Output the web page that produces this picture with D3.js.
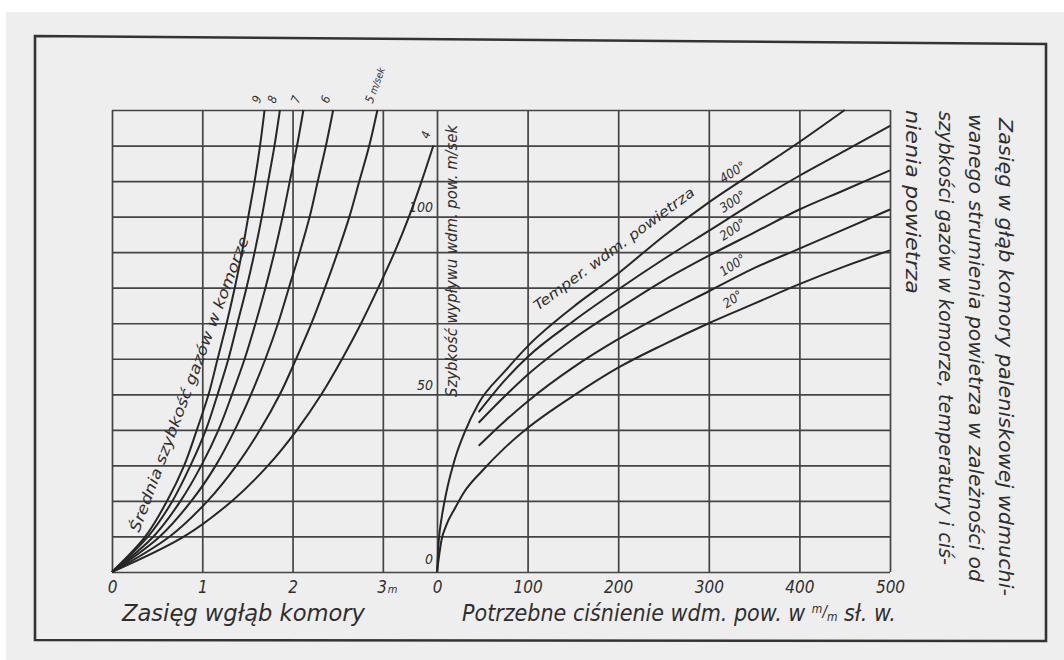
<!DOCTYPE html>
<html>
<head>
<meta charset="utf-8">
<title>Zasięg w głąb komory paleniskowej</title>
<script src="https://cdn.jsdelivr.net/npm/d3@7"></script>
<style>
  body { margin: 0; background: #fff; }
  svg text {
    font-family: "DejaVu Sans Condensed", "Liberation Sans Narrow", sans-serif;
    font-style: oblique;
    fill: #2e2e2e;
  }
</style>
</head>
<body>
<script>
// --- data ---

// left panel: reach (m) for each outflow speed level, one curve per gas speed in chamber
const levels = [0, 10, 20, 30, 40, 50, 60, 70, 80, 90, 100, 110, 120, 130];
const gasSpeeds = ["9", "8", "7", "6", "5", "4"];
const reach9 = [0, 0.37, 0.61, 0.80, 0.94, 1.07, 1.17, 1.27, 1.36, 1.44, 1.51, 1.58, 1.64, 1.69];
const reach8 = [0, 0.40, 0.67, 0.87, 1.04, 1.17, 1.29, 1.39, 1.49, 1.58, 1.66, 1.73, 1.80, 1.86];
const reach7 = [0, 0.46, 0.76, 0.99, 1.18, 1.33, 1.47, 1.59, 1.70, 1.80, 1.89, 1.97, 2.05, 2.12];
const reach6 = [0, 0.53, 0.88, 1.15, 1.36, 1.54, 1.70, 1.84, 1.96, 2.08, 2.19, 2.28, 2.37, 2.45];
const reach5 = [0, 0.64, 1.06, 1.38, 1.64, 1.86, 2.04, 2.21, 2.36, 2.50, 2.63, 2.74, 2.85, 2.94];
const reach4 = [0, 0.80, 1.33, 1.73, 2.05, 2.32, 2.55, 2.76, 2.95, 3.13, 3.29, 3.43, 3.56];

// right panel: needed pressure (mm w.c.) vs outflow speed, one curve per air temperature
const temps = ["400°", "300°", "200°", "100°", "20°"];
const press400 = [0, 2, 5, 10, 20, 30, 46, 75, 100, 150, 200, 250, 300, 350, 400, 450];
const speed400 = [0, 9, 15, 22, 32, 39, 47.5, 56.5, 63.5, 74.5, 84, 94.5, 104, 112.5, 121, 130];
const pressMid = [46, 75, 100, 150, 200, 250, 300, 350, 400, 450, 500];
const speed300 = [45, 54, 60.5, 70.5, 79.5, 88, 96, 104, 111.5, 118.5, 125.5];
const speed200 = [42, 49.5, 55.5, 65.5, 74, 82, 89, 95.5, 102, 107.5, 113];
const speed100 = [35.5, 42.5, 48, 57.5, 65.5, 72.5, 79, 85.5, 91, 96.5, 102];
const press20 = [0, 5, 10, 20, 30, 50, 75, 100, 150, 200, 250, 300, 350, 400, 450, 500];
const speed20 = [0, 9, 13, 18, 22.5, 28.5, 35, 40.5, 49.5, 57.5, 64, 70, 75.5, 81, 86, 90.5];

const reachTicks = [0, 1, 2, 3];
const pressTicks = [0, 100, 200, 300, 400, 500];
const speedTicks = [0, 50, 100];

// --- page ---
const w = 1064, h = 660;
const svg = d3.select("body").append("svg").attr("width", w).attr("height", h);

svg.append("rect").attr("width", w).attr("height", h).attr("fill", "#fff");
svg.append("rect").attr("x", 6).attr("y", 12).attr("width", w - 6).attr("height", h - 12).attr("fill", "#eeeeee");

// frame of the sheet
svg.append("path")
  .attr("d", "M35,36 L1046,44 L1046,641 L35,640 Z")
  .attr("fill", "none").attr("stroke", "#333").attr("stroke-width", 2.6);

const plotTop = 110, plotBottom = 572;
const xL = d3.scaleLinear().domain([0, 3.6]).range([112, 437]);
const xR = d3.scaleLinear().domain([0, 500]).range([437, 890]);
const y = d3.scaleLinear().domain([0, 130]).range([plotBottom, plotTop]);

const gridColor = "#444";
const fontFam = "DejaVu Sans Condensed, Liberation Sans Narrow, sans-serif";

// horizontal grid, every 10 m/sek across both panels
svg.append("g")
  .attr("transform", "translate(112,0)")
  .call(d3.axisLeft(y).tickValues(levels).tickSize(-(890 - 112)).tickFormat(""))
  .call(g => g.select(".domain").remove())
  .call(g => g.selectAll("line").attr("stroke", gridColor).attr("stroke-width", 1.7));

// left x axis with vertical grid
const axL = svg.append("g")
  .attr("transform", `translate(0,${plotBottom})`)
  .call(d3.axisBottom(xL).tickValues(reachTicks).tickFormat(d3.format("d"))
    .tickSize(-(plotBottom - plotTop)).tickPadding(9))
  .call(g => g.select(".domain").remove());
axL.selectAll("line").attr("stroke", gridColor).attr("stroke-width", 1.7);
axL.selectAll("text").attr("font-size", 17).attr("fill", "#2e2e2e").attr("font-family", fontFam);
axL.selectAll(".tick").filter(d => d === 3).select("text")
  .attr("dx", 4)
  .append("tspan").attr("font-size", 11).attr("dx", 1).text("m");

// right x axis with vertical grid
const axR = svg.append("g")
  .attr("transform", `translate(0,${plotBottom})`)
  .call(d3.axisBottom(xR).tickValues(pressTicks).tickFormat(d3.format("d"))
    .tickSize(-(plotBottom - plotTop)).tickPadding(9))
  .call(g => g.select(".domain").remove());
axR.selectAll("line").attr("stroke", gridColor).attr("stroke-width", 1.7);
axR.selectAll("text").attr("font-size", 17).attr("fill", "#2e2e2e").attr("font-family", fontFam);

// speed labels on the middle axis
const axY = svg.append("g")
  .attr("transform", `translate(${xR(0)},0)`)
  .call(d3.axisLeft(y).tickValues(speedTicks).tickFormat(d3.format("d")).tickSize(0).tickPadding(4))
  .call(g => g.select(".domain").remove());
axY.selectAll("text").attr("font-size", 14).attr("fill", "#2e2e2e").attr("font-family", fontFam)
  .attr("dy", d => d === 0 ? -9 : -5);

// --- left panel curves ---
const reaches = [reach9, reach8, reach7, reach6, reach5, reach4];
const lineL = d3.line()
  .x(d => xL(d[0]))
  .y(d => y(d[1]))
  .curve(d3.curveCatmullRom.alpha(0.5));

reaches.forEach(function (r, i) {
  const pts = r.map((v, j) => [v, levels[j]]);
  svg.append("path")
    .attr("d", lineL(pts))
    .attr("fill", "none").attr("stroke", "#262626").attr("stroke-width", 2);

  const last = pts[pts.length - 1];
  const lab = svg.append("text")
    .attr("transform", `translate(${xL(last[0]) - 5},${y(last[1]) - 6}) rotate(-70)`)
    .attr("font-size", 12);
  lab.text(gasSpeeds[i]);
  if (gasSpeeds[i] === "5") {
    lab.append("tspan").attr("dx", 3).attr("font-size", 10).text("m/sek");
  }
});

// label along the steepest curve
svg.append("text")
  .attr("transform", "translate(139,533) rotate(-69.5)")
  .attr("font-size", 15)
  .attr("textLength", 314).attr("lengthAdjust", "spacingAndGlyphs")
  .text("Średnia szybkość gazów w komorze");

// --- right panel curves ---
const series = [
  [press400, speed400],
  [pressMid, speed300],
  [pressMid, speed200],
  [pressMid, speed100],
  [press20, speed20]
];
const lineR = d3.line()
  .x(d => xR(d[0]))
  .y(d => y(d[1]))
  .curve(d3.curveMonotoneX);

series.forEach(function (s, i) {
  const pts = s[0].map((p, j) => [p, s[1][j]]);
  svg.append("path")
    .attr("d", lineR(pts))
    .attr("fill", "none").attr("stroke", "#262626").attr("stroke-width", 2);

  const at = d3.scaleLinear().domain(s[0]).range(s[1]);
  const lx = xR(329), ly = y(at(329)) - 9;
  svg.append("text")
    .attr("transform", `translate(${lx},${ly}) rotate(-33)`)
    .attr("text-anchor", "middle")
    .attr("font-size", 13)
    .text(temps[i]);
});

svg.append("text")
  .attr("transform", "translate(538,311) rotate(-36.5)")
  .attr("font-size", 14)
  .attr("textLength", 196).attr("lengthAdjust", "spacingAndGlyphs")
  .text("Temper. wdm. powietrza");

// middle axis title
svg.append("text")
  .attr("transform", "translate(457,397) rotate(-90)")
  .attr("font-size", 15)
  .attr("textLength", 272).attr("lengthAdjust", "spacingAndGlyphs")
  .text("Szybkość wypływu wdm. pow. m/sek");

// bottom titles
svg.append("text")
  .attr("x", 122).attr("y", 621)
  .attr("font-size", 23)
  .attr("textLength", 243).attr("lengthAdjust", "spacingAndGlyphs")
  .text("Zasięg wgłąb komory");

const t2 = svg.append("text")
  .attr("x", 462).attr("y", 621)
  .attr("font-size", 23);
t2.append("tspan").text("Potrzebne ciśnienie  wdm. pow. w ");
t2.append("tspan").attr("font-size", 12).attr("dy", -8).text("m");
t2.append("tspan").attr("font-size", 15).attr("dy", 4).text("/");
t2.append("tspan").attr("font-size", 12).attr("dy", 4).text("m");
t2.append("tspan").attr("font-size", 23).attr("dy", 0).text(" sł. w.");

// caption on the right, turned with the sheet
const caption = [
  ["Zasięg w głąb komory paleniskowej wdmuchi-", 999, 118, 478],
  ["wanego strumienia powietrza w zależności od", 969, 114, 468],
  ["szybkości gazów w komorze, temperatury i ciś-", 939, 111, 454],
  ["nienia powietrza", 906, 110, 184]
];
caption.forEach(function (c) {
  svg.append("text")
    .attr("transform", `translate(${c[1]},${c[2]}) rotate(90)`)
    .attr("font-size", 20)
    .attr("textLength", c[3]).attr("lengthAdjust", "spacingAndGlyphs")
    .text(c[0]);
});
</script>
</body>
</html>
